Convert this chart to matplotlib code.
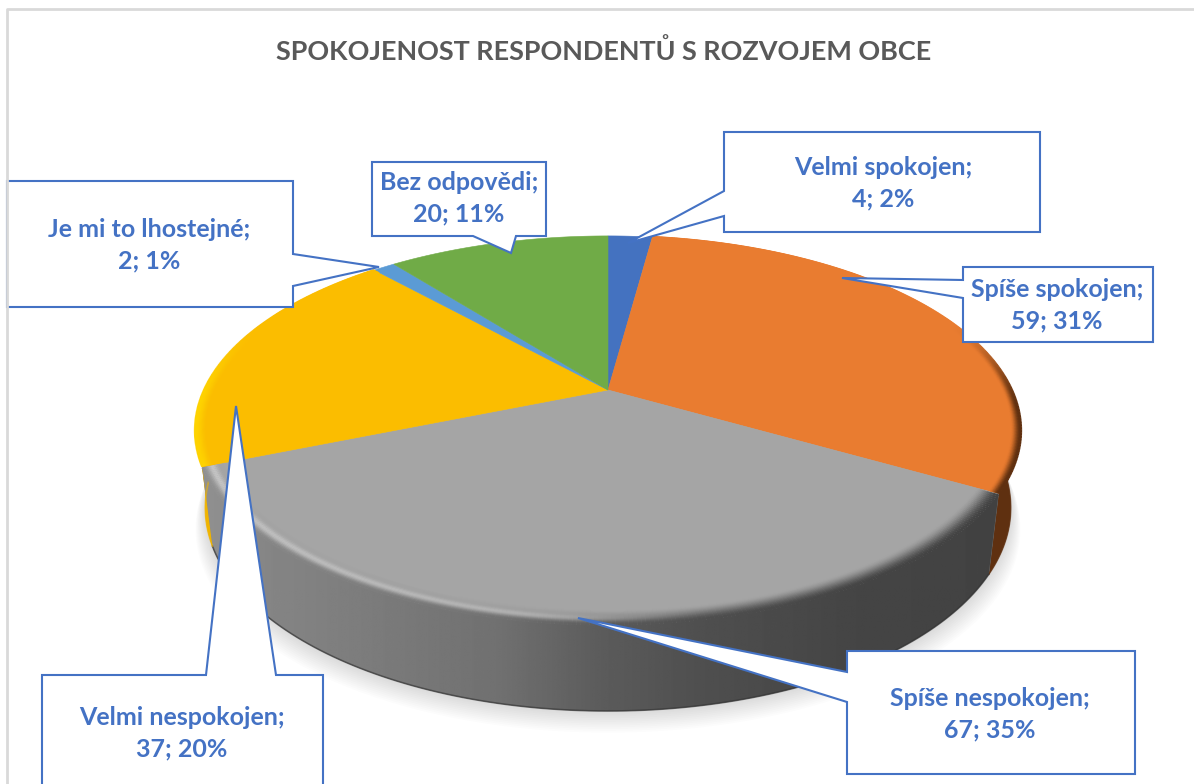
import numpy as np
import matplotlib
matplotlib.use("Agg")
import matplotlib.pyplot as plt
from matplotlib.collections import LineCollection
from matplotlib.colors import LinearSegmentedColormap, to_rgb
from matplotlib.patches import Polygon

plt.rcParams['font.family'] = ['Lato', 'DejaVu Sans']

TITLE = "SPOKOJENOST RESPONDENTŮ S ROZVOJEM OBCE"
labels = ["Velmi spokojen", "Spíše spokojen", "Spíše nespokojen",
          "Velmi nespokojen", "Je mi to lhostejné", "Bez odpovědi"]
values = [4, 59, 67, 37, 2, 20]
percents = [2, 31, 35, 20, 1, 11]
colors = ["#4472c0", "#e97c30", "#a5a5a5", "#fbbd00", "#5b9bd5", "#70ab47"]
side_colors = ["#2c4a80", "#5f3010", "#6a6a6a", "#f0b400", "#3b6a94", "#4a7530"]

# pie projection, pixels
CX, APEX_Y, SX, PERSP, TILT = 608, 390, 404, -0.208, 105
BLUE = "#4472c4"

# callouts: outline from top-left going clockwise, then text centre
callouts = {
    "Velmi spokojen": ([(724, 132), (1040, 132), (1040, 232), (724, 232), (724, 216), (628, 243), (724, 191)], (883, 183)),
    "Spíše spokojen": ([(963, 267), (1153, 267), (1153, 342), (963, 342), (963, 298), (842, 278), (963, 280)], (1057, 305)),
    "Spíše nespokojen": ([(847, 651), (1135, 651), (1135, 774), (847, 774), (847, 702), (578, 618), (847, 672)], (990, 714)),
    "Velmi nespokojen": ([(42, 675), (206, 675), (236, 406), (276, 675), (323, 675), (323, 800), (42, 800)], (182, 733)),
    "Je mi to lhostejné": ([(7, 181), (293, 181), (293, 254), (379, 267), (293, 286), (293, 307), (7, 307)], (149, 245)),
    "Bez odpovědi": ([(372, 162), (546, 162), (546, 236), (516, 236), (511, 253), (473, 236), (372, 236)], (459, 198)),
}


def project(theta, r=1.0):
    """theta is clockwise from the top, radians"""
    u = r * np.sin(theta)
    v = -r * np.cos(theta)
    w = 1 + PERSP * v
    return CX + SX * u / w, (APEX_Y + TILT * v) / w


def project_bottom(theta):
    x, y = project(theta)
    v = -np.cos(theta)
    return CX + (x - CX) * 0.975, y + 75 + 11 * v


def smooth(t):
    t = np.clip(t, 0, 1)
    return t * t * (3 - 2 * t)


def side_level(x):
    return np.interp(x, [213, 270, 500, 600, 700, 850, 990],
                     [0.56, 0.52, 0.44, 0.36, 0.31, 0.27, 0.26])


def draw_shadow(ax):
    th = np.linspace(0, 2 * np.pi, 300)
    x, y = project_bottom(th)
    for e in np.linspace(24, 2, 12):
        ax.fill(CX + (x - CX) * (1 + e / 1000), y + e * 0.9, color="#808080",
                alpha=0.022, lw=0, zorder=1)


def draw_side(ax, t0, t1, i):
    a = max(t0, np.radians(85))
    b = min(t1, np.radians(275))
    if a >= b:
        return
    th = np.linspace(a, b, 120)
    xt, yt = project(th)
    xb, yb = project_bottom(th)
    pts = np.r_[np.c_[xt, yt], np.c_[xb, yb][::-1]]
    poly = Polygon(pts, closed=True, fc=side_colors[i], ec=side_colors[i], lw=0.5, zorder=2)
    ax.add_patch(poly)
    if labels[i] == "Spíše nespokojen":
        grid = np.linspace(pts[:, 0].min(), pts[:, 0].max(), 500)
        cmap = LinearSegmentedColormap.from_list("g", ["#000000", "#ffffff"])
        im = ax.imshow(side_level(grid)[None, :], extent=(grid[0], grid[-1], pts[:, 1].max(), pts[:, 1].min()),
                       cmap=cmap, vmin=0, vmax=1, aspect="auto", zorder=3)
        im.set_clip_path(poly)
    ax.plot(xb, yb, color="#303030" if i == 2 else side_colors[i], lw=1.2, alpha=0.6, zorder=3)


def draw_top(ax, t0, t1, i):
    th = np.linspace(t0, t1, 200)
    x, y = project(th)
    pts = np.r_[[[CX, APEX_Y]], np.c_[x, y]]
    ax.add_patch(Polygon(pts, closed=True, fc=colors[i], ec=colors[i], lw=0.4, zorder=4))


def draw_rim(ax, t0, t1, i):
    width = {1: 0.022, 2: 0.05, 3: 0.028}.get(i)
    if width is None:
        return
    base = np.array(to_rgb(colors[i]))
    side = np.array(to_rgb("#ffd400" if i == 3 else side_colors[i]))
    th = np.linspace(t0 + 0.002, t1 - 0.002, 260)
    segs, cols = [], []
    for r in np.linspace(1 - width, 1, 16):
        x, y = project(th, r)
        t = (1 - r) / width
        s = smooth(t)
        for k in range(len(th) - 1):
            v = -np.cos(th[k])
            g = smooth((v + 0.4) / 0.5) * (1 - s)
            if i == 2:
                c = np.full(3, side_level(x[k])) * g + base * (1 - g)
                h = 0.18 * np.exp(-((t - 0.4) / 0.22) ** 2) * smooth((720 - x[k]) / 200)
                c = np.clip(c + h, 0, 1)
            else:
                c = side * g + base * (1 - g)
            segs.append([(x[k], y[k]), (x[k + 1], y[k + 1])])
            cols.append(c)
    ax.add_collection(LineCollection(segs, colors=cols, linewidths=1.6, zorder=5, capstyle="butt"))


def draw_callouts(ax):
    for i, name in enumerate(labels):
        outline, pos = callouts[name]
        ax.add_patch(Polygon(outline, closed=True, fc="white", ec=BLUE, lw=1.5, zorder=6, joinstyle="miter"))
        ax.text(pos[0], pos[1] - 15.5, f"{name};", color=BLUE, fontsize=18, fontweight="bold",
                ha="center", va="center", zorder=7)
        ax.text(pos[0], pos[1] + 16, f"{values[i]}; {percents[i]}%", color=BLUE, fontsize=18,
                fontweight="bold", ha="center", va="center", zorder=7)


def main():
    fig = plt.figure(figsize=(11.94, 7.84), dpi=100)
    ax = fig.add_axes([0, 0, 1, 1])
    edges = np.r_[0, np.cumsum(values)] / np.sum(values) * 2 * np.pi

    # chart area border, open on the right, sits over the cut-off callout
    ax.plot([7, 7, 1194], [784, 9, 9], color="#d9d9d9", lw=2, zorder=8)
    ax.text(603.5, 51, TITLE, color="#595959", fontsize=19.45, fontweight="bold",
            ha="center", va="center", zorder=7)

    draw_shadow(ax)
    for i in range(len(values)):
        draw_side(ax, edges[i], edges[i + 1], i)
    for i in range(len(values)):
        draw_top(ax, edges[i], edges[i + 1], i)
        draw_rim(ax, edges[i], edges[i + 1], i)
    draw_callouts(ax)

    ax.set_xlim(0, 1194)
    ax.set_ylim(784, 0)
    ax.axis("off")
    fig.savefig("out.png", dpi=100, facecolor="white")


if __name__ == "__main__":
    main()
